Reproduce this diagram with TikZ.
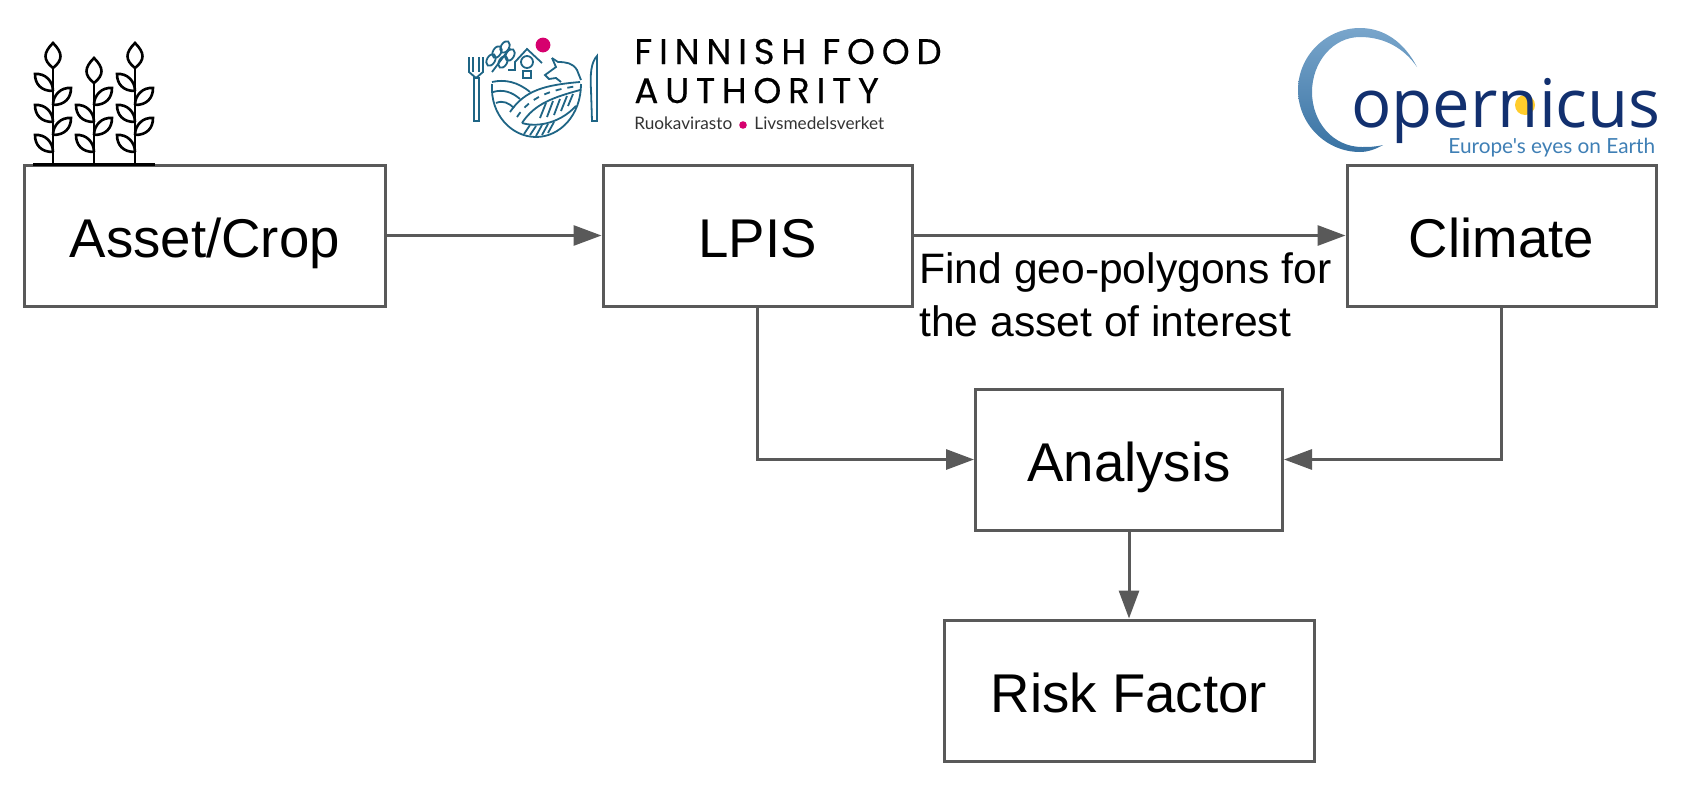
\documentclass[tikz,border=0pt]{standalone}
\usepackage{fontspec}
\setmainfont{Liberation Sans}
\newfontfamily\logofont[LetterSpace=19, FakeBold=0.3]{Poppins}
\newfontfamily\smallfont{Lato}
\newfontfamily\copfont{Open Sans}
\definecolor{linegray}{HTML}{595959}
\definecolor{logoteal}{HTML}{1F6585}
\definecolor{logopink}{HTML}{D6006E}
\definecolor{copnavy}{HTML}{12306F}
\definecolor{copblue}{HTML}{3F7FB5}
\definecolor{copsun}{HTML}{FFCC2B}
\usetikzlibrary{arrows.meta, positioning}
\newcommand{\plant}[3]
{
	\begin{scope}[shift={(#1,#2)}]
		\draw[icon] (0,0) .. controls (-10,-8) and (-10,-15) .. (0,-25) .. controls (10,-15) and (10,-8) .. (0,0);
	\end{scope}
	\draw[icon] (#1,164) -- (#1,#2);
	\foreach \y in {#3}
	{
		\begin{scope}[shift={(#1,\y)}]
			\draw[icon] (0,0) .. controls (-12,0) and (-18,-7) .. (-18,-17) .. controls (-8,-18) and (0,-10) .. (0,0);
		\end{scope}
	}
	\foreach \y in {105,135}
	{
		\begin{scope}[shift={(#1,\y)}]
			\draw[icon] (0,0) .. controls (12,0) and (18,-7) .. (18,-17) .. controls (8,-18) and (0,-10) .. (0,0);
		\end{scope}
	}
}
\begin{document}
\begin{tikzpicture}[x=0.5pt, y=-0.5pt,
	block/.style={shape=rectangle, draw=linegray, line width=1.5pt, minimum height=70.5pt, inner sep=0pt,
		font=\fontsize{27.3}{32}\selectfont, text height=22pt, text depth=0pt},
	link/.style={draw=linegray, line width=1.5pt, -{Triangle[length=14pt, width=10pt]}},
	icon/.style={draw=black, line width=1.3pt},
	logoline/.style={draw=logoteal, line width=0.9pt},
	plain/.style={inner sep=0pt, anchor=base west}]
	\useasboundingbox (0,0) rectangle (1686,788);

	\node[block, minimum width=180.5pt] at (204.75, 235.5) (asset){Asset/Crop};
	\node[block, minimum width=154.5pt] at (757.5, 235.5) (lpis){LPIS};
	\node[block, minimum width=154.5pt] at (1501.5, 235.5) (climate){Climate};
	\node[block, minimum width=153.5pt] at (1129, 459.5) (analysis){Analysis};
	\node[block, minimum width=185pt] at (1129, 690.5) (risk){Risk Factor};
	\node[plain, font=\fontsize{21.3}{26.5}\selectfont, align=left, anchor=north west] at (919, 252) (polygons){Find geo-polygons for\\the asset of interest};

	\draw[link] (asset.east) -- (lpis.west);
	\draw[link] (lpis.east) -- (climate.west);
	\draw[link] (lpis.south) |- (analysis.west);
	\draw[link] (climate.south) |- (analysis.east);
	\draw[link] (analysis.south) -- (risk.north);

	\draw[icon, line width=1.5pt] (33,164) -- (155,164);
	\plant{53}{68}{91,122,152}
	\plant{94}{83}{122,152}
	\plant{135}{68}{91,122,152}

	\draw[logoline] (469,57) -- (469,72) -- (476,78) -- (483,72) -- (483,57);
	\draw[logoline] (473,57) -- (473,72);
	\draw[logoline] (479,57) -- (479,72);
	\draw[logoline] (474,78) rectangle (479,121);
	\draw[logoline] (597,56) .. controls (591,62) and (590,75) .. (591,90) -- (592,121) -- (597,121) -- cycle;
	\draw[logoline] (492,84) .. controls (490,115) and (512,137) .. (536,137) .. controls (560,137) and (581,115) .. (581,84);
	\draw[logoline] (492,82) .. controls (505,79) and (518,82) .. (530,92);
	\draw[logoline] (493,92) .. controls (503,89) and (512,92) .. (520,99);
	\draw[logoline] (496,103) .. controls (503,100) and (509,103) .. (514,108);
	\draw[logoline] (510,112) .. controls (525,90) and (545,85) .. (580,82);
	\draw[logoline] (522,123) .. controls (535,103) and (555,97) .. (580,90);
	\draw[logoline, dashed] (517,117) .. controls (530,97) and (550,90) .. (578,86);
	\draw[logoline] (522,123) .. controls (535,127) and (558,125) .. (576,106);
	\foreach \a/\b/\c/\d in {540/118/546/103, 547/117/553/101, 554/115/560/99, 561/111/567/96, 568/106/573/94, 524/134/530/125, 530/135/536/126, 536/136/542/125, 542/135/548/124, 548/133/554/122}
		\draw[logoline] (\a,\b) -- (\c,\d);
	\draw[logoline] (508,70) -- (515,70) -- (515,62) -- (527,49) -- (542,63);
	\draw[logoline] (527,62) circle[radius=3pt];
	\draw[logoline] (523,71) rectangle (531,78);
	\draw[logoline] (552,58) -- (558,62) .. controls (566,62) and (573,63) .. (577,70) -- (581,80);
	\draw[logoline] (552,58) -- (556,67) -- (545,75) -- (549,79) -- (556,78) -- (561,82);
	\draw[logoline] (492,72) -- (510,48);
	\foreach \a/\b in {491/60, 497/52, 505/47, 503/62, 510/55}
		\draw[logoline] (\a,\b) ellipse[x radius=3.2pt, y radius=2pt, rotate=60];
	\fill[logopink] (543,45) circle[radius=3.7pt];
	\node[plain, font=\logofont\fontsize{17.8}{20}\selectfont] at (634,64) (finnish){FINNISH FOOD};
	\node[plain, font=\logofont\fontsize{17.8}{20}\selectfont] at (634,103) (authority){AUTHORITY};
	\node[plain, font=\smallfont\fontsize{8.6}{10}\selectfont, text=black!80] at (634,129) (ruoka){Ruokavirasto};
	\fill[logopink] (743,125) circle[radius=1.9pt];
	\node[plain, font=\smallfont\fontsize{8.6}{10}\selectfont, text=black!80] at (754,129) (livs){Livsmedelsverket};

	\shade[top color=copblue!70, bottom color=copblue!90!black] (1417,67) .. controls (1404,42) and (1384,28) .. (1360,28) .. controls (1326,28) and (1298,56) .. (1298,90) .. controls (1298,124) and (1326,152) .. (1360,152) .. controls (1368,152) and (1376,149) .. (1383,145) .. controls (1375,147) and (1368,147) .. (1362,147) .. controls (1333,147) and (1312,122) .. (1312,92) .. controls (1312,62) and (1333,37) .. (1360,37) .. controls (1384,37) and (1404,48) .. (1417,67) -- cycle;
	\fill[copsun] (1525,105) circle[radius=5pt];
	\node[plain, font=\copfont\fontsize{33.5}{40}\selectfont, text=copnavy] at (1351,127) (opernicus){opernicus};
	\node[plain, font=\smallfont\fontsize{10.4}{12}\selectfont, text=copblue] at (1448,153) (eyes){Europe's eyes on Earth};
\end{tikzpicture}
\end{document}
